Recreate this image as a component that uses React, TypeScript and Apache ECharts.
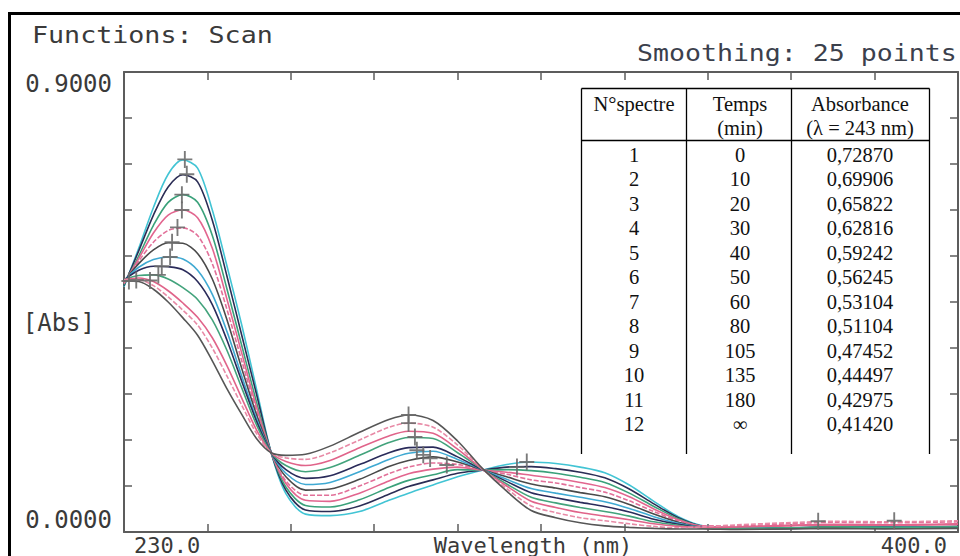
import React, { useEffect, useRef } from 'react';
import * as echarts from 'echarts';

// ---------- data ----------
const wavelengths = [230, 233, 236, 239, 242, 245, 248, 251, 254, 257, 260, 263, 267, 272, 278, 284, 288, 293, 298, 303, 308, 313, 318, 323, 328, 333, 338, 343, 348, 355, 365, 375, 385, 400];

const spectrum1 = [0.480, 0.555, 0.635, 0.700, 0.728, 0.712, 0.630, 0.520, 0.405, 0.280, 0.155, 0.075, 0.035, 0.032, 0.040, 0.062, 0.076, 0.092, 0.108, 0.121, 0.132, 0.137, 0.134, 0.127, 0.116, 0.092, 0.060, 0.030, 0.012, 0.008, 0.007, 0.009, 0.008, 0.010];
const spectrum2 = [0.482, 0.550, 0.620, 0.675, 0.699, 0.685, 0.610, 0.500, 0.385, 0.270, 0.155, 0.082, 0.043, 0.040, 0.051, 0.074, 0.089, 0.102, 0.115, 0.121, 0.127, 0.128, 0.124, 0.117, 0.106, 0.084, 0.055, 0.028, 0.011, 0.007, 0.008, 0.010, 0.009, 0.011];
const spectrum3 = [0.484, 0.540, 0.600, 0.645, 0.660, 0.645, 0.580, 0.475, 0.365, 0.255, 0.155, 0.088, 0.052, 0.049, 0.063, 0.087, 0.101, 0.112, 0.122, 0.121, 0.122, 0.120, 0.115, 0.107, 0.097, 0.076, 0.050, 0.026, 0.010, 0.006, 0.007, 0.009, 0.008, 0.010];
const spectrum4 = [0.486, 0.535, 0.585, 0.620, 0.630, 0.615, 0.555, 0.455, 0.350, 0.245, 0.155, 0.095, 0.062, 0.060, 0.076, 0.100, 0.114, 0.123, 0.127, 0.121, 0.117, 0.111, 0.105, 0.097, 0.087, 0.069, 0.045, 0.024, 0.011, 0.009, 0.012, 0.014, 0.013, 0.015];
const spectrum5 = [0.488, 0.530, 0.567, 0.590, 0.595, 0.580, 0.525, 0.435, 0.335, 0.238, 0.155, 0.100, 0.072, 0.072, 0.090, 0.114, 0.127, 0.135, 0.132, 0.122, 0.113, 0.102, 0.096, 0.087, 0.078, 0.061, 0.040, 0.022, 0.012, 0.012, 0.016, 0.019, 0.018, 0.020];
const spectrum6 = [0.490, 0.525, 0.552, 0.566, 0.565, 0.545, 0.495, 0.415, 0.320, 0.230, 0.155, 0.108, 0.082, 0.084, 0.103, 0.128, 0.140, 0.147, 0.137, 0.122, 0.108, 0.094, 0.086, 0.077, 0.069, 0.054, 0.035, 0.019, 0.009, 0.006, 0.007, 0.010, 0.008, 0.009];
const spectrum7 = [0.492, 0.518, 0.533, 0.538, 0.534, 0.512, 0.465, 0.392, 0.305, 0.222, 0.155, 0.115, 0.093, 0.097, 0.118, 0.142, 0.154, 0.158, 0.142, 0.122, 0.103, 0.085, 0.076, 0.068, 0.059, 0.046, 0.030, 0.017, 0.009, 0.007, 0.008, 0.009, 0.010, 0.009];
const spectrum8 = [0.493, 0.512, 0.520, 0.519, 0.513, 0.490, 0.445, 0.375, 0.295, 0.217, 0.155, 0.122, 0.105, 0.110, 0.132, 0.155, 0.165, 0.166, 0.147, 0.122, 0.099, 0.077, 0.067, 0.058, 0.050, 0.039, 0.025, 0.015, 0.008, 0.006, 0.007, 0.008, 0.009, 0.008];
const spectrum9 = [0.494, 0.502, 0.503, 0.495, 0.478, 0.455, 0.415, 0.355, 0.282, 0.210, 0.155, 0.130, 0.118, 0.126, 0.150, 0.175, 0.185, 0.183, 0.155, 0.123, 0.094, 0.068, 0.057, 0.048, 0.040, 0.031, 0.020, 0.013, 0.008, 0.007, 0.008, 0.010, 0.009, 0.010];
const spectrum10 = [0.494, 0.497, 0.490, 0.472, 0.448, 0.420, 0.380, 0.325, 0.262, 0.200, 0.155, 0.138, 0.130, 0.140, 0.165, 0.188, 0.197, 0.193, 0.162, 0.123, 0.090, 0.060, 0.048, 0.038, 0.031, 0.024, 0.016, 0.011, 0.009, 0.010, 0.013, 0.015, 0.014, 0.016];
const spectrum11 = [0.493, 0.493, 0.482, 0.460, 0.434, 0.405, 0.360, 0.305, 0.248, 0.193, 0.155, 0.145, 0.142, 0.155, 0.180, 0.205, 0.213, 0.205, 0.170, 0.124, 0.085, 0.051, 0.038, 0.028, 0.022, 0.016, 0.011, 0.008, 0.010, 0.014, 0.018, 0.021, 0.020, 0.022];
const spectrum12 = [0.491, 0.490, 0.475, 0.450, 0.419, 0.385, 0.335, 0.280, 0.230, 0.183, 0.155, 0.150, 0.152, 0.168, 0.195, 0.220, 0.229, 0.218, 0.178, 0.125, 0.080, 0.042, 0.028, 0.018, 0.012, 0.009, 0.007, 0.006, 0.006, 0.005, 0.006, 0.007, 0.006, 0.007];

const spectra = [spectrum1, spectrum2, spectrum3, spectrum4, spectrum5, spectrum6, spectrum7, spectrum8, spectrum9, spectrum10, spectrum11, spectrum12];
const seriesNames = ['1', '2', '3', '4', '5', '6', '7', '8', '9', '10', '11', '12'];
const seriesColors = ['#42c4d4', '#2b2d55', '#3aa17a', '#e2668f', '#e27099', '#4a4a4a', '#3fa9d2', '#2a2b5a', '#43a37c', '#e0648a', '#e88aa6', '#565656'];
const seriesDashed = [false, false, false, false, true, false, false, false, false, false, true, false];

// "+" peak markers drawn by the instrument: [wavelength, absorbance]
const peakMarkers = [
  [242.4, 0.729], [242.8, 0.700], [241.8, 0.660], [241.8, 0.630], [240.9, 0.596], [239.8, 0.567],
  [239.4, 0.538], [237.7, 0.520], [237.0, 0.503], [235.3, 0.492], [232.5, 0.493], [231.0, 0.491],
  [288.0, 0.229], [288.0, 0.213], [289.3, 0.186], [289.7, 0.160], [291.0, 0.151], [292.4, 0.144], [295.8, 0.131],
  [312.1, 0.137], [310.1, 0.127], [371.5, 0.021], [387.0, 0.022],
];

const xLabelValues = [230, 400];
const xLabelTexts = ['230.0', '400.0'];
const yLabelValues = [0, 0.9];
const yLabelTexts = ['0.0000', '0.9000'];

const titleText = 'Functions: Scan';
const smoothingText = 'Smoothing: 25 points';
const xAxisName = 'Wavelength (nm)';
const yAxisName = '[Abs]';

const tableHeaderTop = ['N°spectre', 'Temps', 'Absorbance'];
const tableHeaderBottom = ['', '(min)', '(λ = 243 nm)'];
const tableSpectre = ['1', '2', '3', '4', '5', '6', '7', '8', '9', '10', '11', '12'];
const tableTemps = ['0', '10', '20', '30', '40', '50', '60', '80', '105', '135', '180', '∞'];
const tableAbsorbance = ['0,72870', '0,69906', '0,65822', '0,62816', '0,59242', '0,56245', '0,53104', '0,51104', '0,47452', '0,44497', '0,42975', '0,41420'];

// ---------- styles ----------
const mono = '"DejaVu Sans Mono", "Liberation Mono", monospace';
const serif = '"Liberation Serif", "Times New Roman", serif';
const textColor = '#3a3a3a';
const axisColor = '#5c5c5c';

function labelFor(values: number[], texts: string[], v: number): string {
  for (let i = 0; i < values.length; i++) {
    if (Math.abs(values[i] - v) < 1e-6) return texts[i];
  }
  return '';
}

export default function App() {
  const ref = useRef<HTMLDivElement>(null);

  useEffect(() => {
    if (!ref.current) return;
    const chart = echarts.init(ref.current, undefined, { renderer: 'svg' });

    const lineSeries = spectra.map((d, i) => ({
      name: seriesNames[i],
      type: 'line',
      xAxisIndex: 0,
      yAxisIndex: 0,
      data: wavelengths.map((w, j) => [w, d[j]]),
      showSymbol: false,
      smooth: 0.3,
      silent: true,
      z: 3,
      lineStyle: { color: seriesColors[i], width: 1.6, type: seriesDashed[i] ? [5, 2] : 'solid' },
    }));

    // table geometry
    const colX = [581.5, 686.5, 791.5, 929.5];
    const colCenters = [634, 740, 860];
    const tableTop = 88.5;
    const headerBottom = 140.5;
    const tableBottom = 454;
    const rowStart = 155;
    const rowStep = 24.45;

    const tableGraphics: any[] = [];
    tableGraphics.push({ type: 'line', shape: { x1: colX[0], y1: tableTop, x2: colX[3], y2: tableTop }, style: { stroke: '#000', lineWidth: 1.3 } });
    tableGraphics.push({ type: 'line', shape: { x1: colX[0], y1: headerBottom, x2: colX[3], y2: headerBottom }, style: { stroke: '#000', lineWidth: 1.3 } });
    colX.forEach((x) => {
      tableGraphics.push({ type: 'line', shape: { x1: x, y1: tableTop, x2: x, y2: tableBottom }, style: { stroke: '#000', lineWidth: 1.3 } });
    });
    const tText = (text: string, x: number, y: number) => ({
      type: 'text', x, y,
      style: { text, fill: '#111', fontFamily: serif, fontSize: 20.5, align: 'center', verticalAlign: 'middle', textAlign: 'center', textVerticalAlign: 'middle' },
    });
    tableHeaderTop.forEach((t, i) => tableGraphics.push(tText(t, colCenters[i], 104)));
    tableHeaderBottom.forEach((t, i) => { if (t) tableGraphics.push(tText(t, colCenters[i], 128)); });
    for (let r = 0; r < tableSpectre.length; r++) {
      const y = rowStart + r * rowStep;
      tableGraphics.push(tText(tableSpectre[r], colCenters[0], y));
      tableGraphics.push(tText(tableTemps[r], colCenters[1], y));
      tableGraphics.push(tText(tableAbsorbance[r], colCenters[2], y));
    }

    const axisLine = { show: true, onZero: false, lineStyle: { color: axisColor, width: 2 } };
    const axisTick = { show: true, inside: true, length: 8, lineStyle: { color: axisColor, width: 1.5 } };

    const option: any = {
      animation: false,
      backgroundColor: '#ffffff',
      grid: { left: 124, right: 2, top: 72, bottom: 24, containLabel: false, outerBoundsMode: 'none' },
      xAxis: [
        {
          type: 'value', min: 230, max: 400, interval: 17, position: 'bottom',
          name: xAxisName, nameLocation: 'middle', nameGap: 2, nameMoveOverlap: false,
          nameTextStyle: { fontFamily: mono, fontSize: 22, color: textColor, verticalAlign: 'top', padding: [0, 16, 0, 0] },
          axisLine, axisTick,
          axisLabel: {
            show: true, fontFamily: mono, fontSize: 22, color: textColor, margin: 2,
            formatter: (v: number) => labelFor(xLabelValues, xLabelTexts, v),
            alignMinLabel: 'left', alignMaxLabel: 'right', padding: [0, 11, 0, 10],
            showMinLabel: true, showMaxLabel: true, hideOverlap: false,
          },
          splitLine: { show: false },
        },
        {
          type: 'value', min: 230, max: 400, interval: 17, position: 'top',
          axisLine, axisTick, axisLabel: { show: false }, splitLine: { show: false },
        },
      ],
      yAxis: [
        {
          type: 'value', min: 0, max: 0.9, interval: 0.09, position: 'left',
          name: yAxisName, nameLocation: 'middle', nameRotate: 0, nameGap: 29, nameMoveOverlap: false,
          nameTextStyle: { fontFamily: mono, fontSize: 24, color: textColor, verticalAlign: 'top', padding: [9, 0, 0, 0] },
          axisLine, axisTick,
          axisLabel: {
            show: true, fontFamily: mono, fontSize: 24, color: textColor, margin: 12,
            formatter: (v: number) => labelFor(yLabelValues, yLabelTexts, v),
            verticalAlignMinLabel: 'bottom', verticalAlignMaxLabel: 'top',
            showMinLabel: true, showMaxLabel: true,
          },
          splitLine: { show: false },
        },
        {
          type: 'value', min: 0, max: 0.9, interval: 0.09, position: 'right',
          axisLine, axisTick, axisLabel: { show: false }, splitLine: { show: false },
        },
      ],
      series: [
        ...lineSeries,
        {
          name: 'peaks',
          type: 'scatter',
          xAxisIndex: 0,
          yAxisIndex: 0,
          data: peakMarkers,
          symbol: 'path://M7,0h2v18h-2z M0,8h16v2h-16z',
          symbolSize: [15, 17],
          silent: true,
          z: 4,
          itemStyle: { color: '#6b6b6b', opacity: 0.9 },
        },
      ],
      graphic: [
        {
          type: 'rect', z: 100, silent: true,
          shape: { x: 9.5, y: 13.5, width: 970, height: 570 },
          style: { fill: 'none', stroke: '#000', lineWidth: 3 },
        },
        {
          type: 'text', x: 32, y: 35, scaleX: 1.16, silent: true,
          style: { text: titleText, fill: textColor, fontFamily: mono, fontSize: 23, verticalAlign: 'middle', textVerticalAlign: 'middle' },
        },
        {
          type: 'text', x: 637, y: 53, scaleX: 1.155, silent: true,
          style: { text: smoothingText, fill: '#3b404c', fontFamily: mono, fontSize: 23, verticalAlign: 'middle', textVerticalAlign: 'middle' },
        },
        ...tableGraphics,
      ],
    };

    chart.setOption(option);
    return () => chart.dispose();
  }, []);

  return (
    <div
      ref={ref}
      style={{ position: 'absolute', left: 0, top: 0, width: 960, height: 556, background: '#fff' }}
    />
  );
}
